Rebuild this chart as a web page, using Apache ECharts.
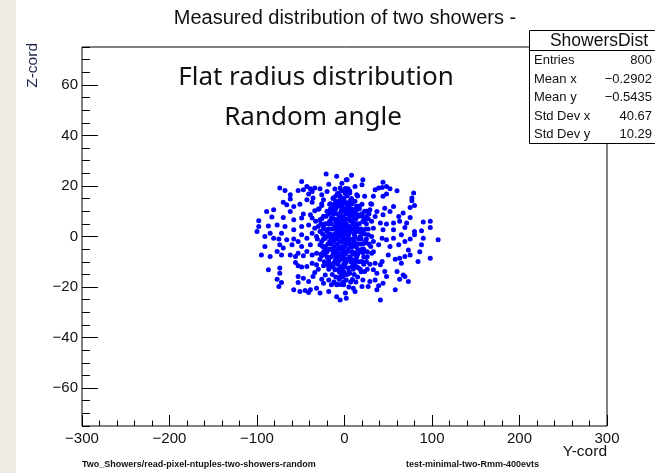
<!DOCTYPE html>
<html><head><meta charset="utf-8">
<script src="https://cdn.jsdelivr.net/npm/echarts@6/dist/echarts.min.js"></script>
<style>html,body{margin:0;padding:0;background:#fff}#c{width:655px;height:473px}</style>
</head><body><div id="c"></div>
<script>
// ---- data (Y-cord, Z-cord) ----
const upperLeftPts = [[-21,24.7],[-9,23.8],[2,22.5],[-49,21.8],[-18,20.7],[-74,19.2],[-68,18.2],[-53,18.2],[-47,18.5],[-43,19.8],[-39,18.9],[-37,17.8],[-34,19.2],[-28,18.9],[-20,17.8],[-11,18.8],[-5,19.2],[-1,18.1],[-62,16.5],[-41,16.8],[-26,16.5],[-7,16.8],[2,17.6],[-62,14.8],[-43,14.5],[-36,15.2],[-24,14.5],[-13,15.2],[-5,14.5],[-70,13.6],[-66,12.6],[-58,11.9],[-51,12.8],[-37,13.6],[-26,12.3],[-17,12.8],[-7,12.6],[1,13.2],[-81,10.6],[-89,9.9],[-62,9.9],[-47,8.9],[-39,8.6],[-34,10.2],[-30,10.8],[-18,9.9],[-13,11.2],[-3,10.6],[4,9.9],[-83,7.7],[-70,7.5],[-58,6.6],[-49,7.3],[-37,7.3],[-28,6.6],[-15,7.3],[-5,7.9],[-98,6.2],[-87,4.2],[-98,4],[-77,4.6],[-68,4],[-58,2.7],[-49,4],[-41,4.6],[-34,3.3],[-24,4],[-17,4.9],[-9,5.3],[-1,4.6],[2,2.7],[-28,2],[-20,2.7],[-9,2],[-100,2],[-85,1.3],[-72,1.3]];
const upperRightPts = [[8,24.2],[21,22.5],[3,22.5],[-3,21.1],[44,21.5],[20,20.5],[12,19.8],[39,19.2],[43,19.4],[48,19.8],[52,18.9],[60,18.1],[35,18.5],[4,18.9],[6,17.2],[14,16.5],[23,15.9],[33,15.9],[44,15.9],[48,16.8],[79,17.2],[77,15.2],[77,14.1],[-1,14.5],[8,13.2],[20,12.8],[31,12.8],[56,11.9],[75,11.5],[80,12.3],[3,11.2],[14,10.6],[29,10.6],[37,9.9],[46,11.2],[52,9.9],[6,8.6],[18,8.6],[25,7.9],[35,7.9],[44,8.6],[62,7.9],[67,9.3],[75,7.5],[1,6.6],[10,6.2],[23,5.7],[31,6],[41,5.3],[48,4.9],[56,5.3],[63,6],[69,3.6],[71,5.3],[88,2.3],[98,3.6],[98,6],[90,5.7],[80,2],[33,3.3],[44,2.7],[56,2.7],[14,3.6],[-1,3.3],[6,2],[21,2]];
const lowerLeftPts = [[-91,0],[-81,-0.7],[-91,-4],[-95,-7.3],[-85,-7.9],[-87,-13.2],[-75,-1],[-66,-1.3],[-74,-3.3],[-70,-4.6],[-77,-5.9],[-72,-7.3],[-60,-3.3],[-58,-1],[-53,-2],[-49,0.7],[-43,-0.7],[-37,1.3],[-32,0],[-22,-0.7],[-17,0.7],[-62,-7.3],[-56,-7.9],[-53,-6.6],[-47,-7.6],[-43,-5.9],[-37,-7.3],[-32,-6.6],[-26,-7.6],[-56,-10.3],[-53,-11.6],[-49,-12.1],[-43,-11.9],[-37,-10.6],[-32,-11.2],[-24,-11.6],[-18,-11.9],[-74,-12.5],[-74,-14.5],[-77,-16.9],[-72,-18.2],[-75,-19.8],[-53,-15.8],[-47,-16.5],[-53,-18.2],[-41,-17.8],[-36,-15.8],[-26,-16.9],[-24,-18.5],[-18,-17.2],[-15,-19.1],[-34,-14.2],[-58,-21.1],[-51,-21.8],[-45,-21.4],[-39,-21.1],[-41,-22.2],[-32,-20.5],[-28,-22.4],[-18,-21.8],[-9,-23.8],[-5,-25.1],[2,-24.4],[-9,-19.1],[-5,-15.8],[-11,-13.2],[-1,-13.9],[2,-17.2],[-22,-15.2],[-11,-9.9],[-18,-9.2],[-5,-9],[-13,-5.9],[-7,-4.6],[-22,-4.6],[-28,-3.3],[-39,-3.3],[-49,-4]];
const lowerRightPts = [[107,-1.3],[90,-0.7],[98,-8.6],[88,-3.3],[86,-6],[75,-1],[80,0.7],[65,0.7],[69,-2],[62,-3.3],[56,-0.7],[48,-1.3],[52,-4],[39,-3.3],[43,-0.7],[33,-2],[23,-2.6],[27,0.7],[18,0],[73,-5.3],[75,-7.3],[84,-9.9],[69,-7.9],[63,-8.6],[58,-9],[65,-10.6],[50,-7.3],[43,-9.9],[41,-11.2],[35,-10.6],[25,-9.9],[20,-9.9],[31,-6.6],[21,-6.3],[12,-6.6],[10,-10.6],[16,-12.5],[23,-13.9],[33,-13.2],[37,-14.5],[46,-13.9],[48,-15.8],[60,-13.9],[67,-15.2],[63,-16.9],[73,-17.8],[69,-15.8],[58,-21.1],[44,-18.5],[39,-19.5],[35,-17.2],[29,-17.8],[21,-17.2],[20,-19.8],[27,-19.8],[37,-21.1],[41,-25.1],[12,-21.8],[10,-20.5],[1,-22.4],[6,-14.5],[4,-12.5],[1,-10.6],[-3,-14.5],[-1,-19.1]];
const corePts = [[-2,0],[3,1],[-5,-2],[6,-1],[0,3],[-8,2],[9,3],[-3,-4],[4,-5],[-11,-1],[12,0],[1,-7],[-6,5],[7,6],[-14,3],[15,-3],[-1,8],[2,-9],[-9,-6],[10,-7],[-17,-2],[18,2],[-4,10],[5,9],[-12,7],[13,-9],[-7,-10],[8,11],[-19,5],[20,-5],[-15,-8],[16,8],[-22,0],[23,1],[0,-12],[-3,12],[-10,11],[11,-11],[-20,-6],[21,6],[-24,3],[24,-2],[-13,-12],[14,12],[-18,9],[17,-10],[-25,-4],[25,5],[-6,-14],[6,14],[-16,13],[18,-13],[-8,-3],[8,3],[-4,5],[4,-3],[-1,-2],[1,2],[-12,-4],[12,4],[-2,6],[3,-6],[-9,9],[10,-1],[-7,0],[7,-3],[-5,-7],[5,7],[-14,-5],[14,5],[-11,4],[11,1],[-3,-9],[2,9],[-16,1],[16,-1],[-19,-3],[19,3],[-21,8],[22,-8],[-23,-7],[23,7],[-10,-9],[9,10],[-15,10],[15,-7],[-4,1],[4,0],[-1,4],[0,-4],[-8,-11],[8,-12],[-13,0],[13,-4],[-6,8],[6,-8],[-17,6],[18,-6],[-20,2],[20,1],[-2,-5],[2,5],[-11,-7],[12,7],[-5,3],[5,-2],[-24,-1],[24,3],[-9,-1],[9,-4],[-3,2],[3,-1],[-7,7],[7,-10],[-12,12],[13,9],[-18,-10],[17,11],[-22,-4],[21,-3],[-1,10],[1,-10],[-15,-1],[15,2],[-26,7],[26,-6],[-6,-5],[6,4],[-10,6],[10,5],[-4,-12],[4,12],[-28,-9],[28,9],[-30,4],[30,-4],[-2,-8],[0,7],[-14,-11],[14,-12]];
const coreOuterPts = [[-1,15],[3,16],[-6,14],[8,15],[-10,16],[12,14],[-4,18],[1,19],[-8,17],[6,18],[-13,15],[15,16],[-2,13],[4,12],[-7,12],[9,13],[-11,13],[13,11],[-16,11],[17,12],[-20,10],[20,9],[-24,8],[25,10],[-27,5],[27,3],[-26,-2],[28,-3],[-24,-6],[26,-8],[-21,-11],[22,-11],[-18,-13],[19,-14],[-14,-15],[15,-16],[-10,-16],[11,-15],[-6,-17],[7,-18],[-2,-16],[3,-15],[-4,-19],[5,-20],[-8,-19],[9,-17],[-12,-18],[13,-18],[-1,-18],[1,17],[-3,7],[2,-3],[-6,1],[6,2],[-2,-6],[3,4],[-8,-5],[8,-6],[-5,9],[5,-9],[-10,3],[10,-3],[-9,-8],[9,8],[-1,-11],[1,11],[-12,-2],[12,2],[-7,-13],[7,13],[-15,5],[15,-5],[-13,9],[13,-10],[-17,-5],[17,5],[-19,0],[19,-1],[-4,-7],[4,7],[-6,-9],[6,10],[-11,-10],[11,9],[-14,7],[14,-8],[-16,-3],[16,3],[-2,3],[2,-2],[0,1],[-1,-1],[-3,-2],[3,2],[-5,0],[5,1],[-7,4],[7,-4],[-9,5],[9,-6],[-11,1],[11,-2],[-13,-7],[13,7],[-18,3],[18,-3],[-20,-8],[20,8],[-22,5],[22,-5],[-16,-12],[16,12],[-10,14],[10,-13],[-5,16],[5,-14],[0,-15],[0,14],[-3,-13],[3,13],[-8,6],[8,-9],[-12,10],[12,-12],[-23,-10],[23,10],[-25,1],[25,-1],[-27,-7],[27,7],[-31,-1],[31,0],[-33,6],[33,-6],[-29,11],[29,-11],[-26,13],[26,-13],[-30,-13],[30,13]];

const xTickValues = [-300,-200,-100,0,100,200,300];
const xMinorValues = [-280,-260,-240,-220,-180,-160,-140,-120,-80,-60,-40,-20,20,40,60,80,120,140,160,180,220,240,260,280];
const yTickValues = [-60,-40,-20,0,20,40,60];
const yMinorValues = [-75,-70,-65,-55,-50,-45,-35,-30,-25,-15,-10,-5,5,10,15,25,30,35,45,50,55,65,70,75];

const titleText = 'Measured distribution of two showers -';
const statName = 'ShowersDist';
const statLabels = ['Entries','Mean x','Mean y','Std Dev x','Std Dev y'];
const statValues = ['800','\u22120.2902','\u22120.5435','40.67','10.29'];
const noteLines = ['Flat radius distribution','Random angle'];
const xName = 'Y-cord', yName = 'Z-cord';
const footLeft = 'Two_Showers/read-pixel-ntuples-two-showers-random';
const footRight = 'test-minimal-two-Rmm-400evts';

const allPts = [].concat(upperLeftPts, upperRightPts, lowerLeftPts, lowerRightPts, corePts, coreOuterPts);
const FONT = '"Liberation Sans", Arial, sans-serif';
const minus = v => String(v).replace('-', '\u2212');

const chart = echarts.init(document.getElementById('c'), null, {renderer: 'canvas'});

const graphics = [
  {type:'rect', z:1, shape:{x:0,y:0,width:16,height:473}, style:{fill:'#efebe4'}},
  {type:'text', z:100, x:345, y:18, style:{text:titleText, font:'20px '+FONT, fill:'#111', textAlign:'center', textVerticalAlign:'middle'}},
  {type:'text', z:100, x:316, y:78, style:{text:noteLines[0], font:'26px "Noto Sans"', fill:'#111', textAlign:'center', textVerticalAlign:'middle'}},
  {type:'text', z:100, x:313, y:118, style:{text:noteLines[1], font:'26px "Noto Sans"', fill:'#111', textAlign:'center', textVerticalAlign:'middle'}},
  {type:'rect', z:100, shape:{x:529.5,y:30.5,width:140,height:113}, style:{fill:'#fff', stroke:'#000', lineWidth:1}},
  {type:'line', z:101, shape:{x1:529.5,y1:50.5,x2:660,y2:50.5}, style:{stroke:'#000', lineWidth:1}},
  {type:'text', z:102, x:599, y:41, style:{text:statName, font:'17.5px '+FONT, fill:'#111', textAlign:'center', textVerticalAlign:'middle'}},
  {type:'text', z:100, x:607, y:452, style:{text:xName, font:'15.5px '+FONT, fill:'#111', textAlign:'right', textVerticalAlign:'middle'}},
  {type:'text', z:100, x:33, y:43, rotation:Math.PI/2, style:{text:yName, font:'15.5px '+FONT, fill:'#1a2448', textAlign:'right', textVerticalAlign:'middle'}},
  {type:'text', z:100, x:82, y:465, style:{text:footLeft, font:'bold 9px '+FONT, fill:'#111', textAlign:'left', textVerticalAlign:'middle'}},
  {type:'text', z:100, x:406, y:465, style:{text:footRight, font:'bold 9px '+FONT, fill:'#111', textAlign:'left', textVerticalAlign:'middle'}}
];
statLabels.forEach((lab, i) => {
  const y = 60.5 + i * 18.6;
  graphics.push({type:'text', z:102, x:534, y:y, style:{text:lab, font:'13px '+FONT, fill:'#111', textAlign:'left', textVerticalAlign:'middle'}});
  graphics.push({type:'text', z:102, x:652, y:y, style:{text:statValues[i], font:'13px '+FONT, fill:'#111', textAlign:'right', textVerticalAlign:'middle'}});
});

const tickStyle = {color:'#000', width:1};
chart.setOption({
  animation: false,
  backgroundColor: '#fff',
  grid: {left:82, right:48, top:47, bottom:47, show:true, borderColor:'#000', borderWidth:1, backgroundColor:'transparent'},
  xAxis: [
    {type:'value', min:-300, max:300, interval:100, position:'bottom',
     axisLine:{show:false, onZero:false}, splitLine:{show:false},
     axisTick:{show:true, inside:true, length:11, lineStyle:tickStyle, customValues:xTickValues},
     axisLabel:{show:true, customValues:xTickValues, formatter:minus, fontSize:15, fontFamily:FONT, color:'#111', margin:5}},
    {type:'value', min:-300, max:300, interval:100, position:'bottom',
     axisLine:{show:false, onZero:false}, splitLine:{show:false}, axisLabel:{show:false},
     axisTick:{show:true, inside:true, length:5.5, lineStyle:tickStyle, customValues:xMinorValues}}
  ],
  yAxis: [
    {type:'value', min:-75, max:75, position:'left',
     axisLine:{show:false, onZero:false}, splitLine:{show:false},
     axisTick:{show:true, inside:true, length:16, lineStyle:tickStyle, customValues:yTickValues},
     axisLabel:{show:true, customValues:yTickValues, formatter:minus, fontSize:15, fontFamily:FONT, color:'#111', margin:4}},
    {type:'value', min:-75, max:75, position:'left',
     axisLine:{show:false, onZero:false}, splitLine:{show:false}, axisLabel:{show:false},
     axisTick:{show:true, inside:true, length:8, lineStyle:tickStyle, customValues:yMinorValues}}
  ],
  series: [{
    type:'scatter', xAxisIndex:0, yAxisIndex:0, data: allPts,
    symbol:'circle', symbolSize:5, itemStyle:{color:'#0000ff', opacity:1},
    emphasis:{disabled:true}, silent:true
  }],
  graphic: graphics
});
</script>
</body></html>
